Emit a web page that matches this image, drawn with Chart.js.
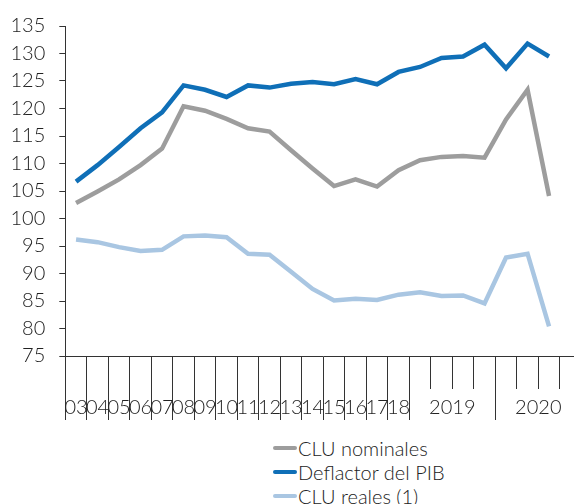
<!DOCTYPE html>
<html>
<head>
<meta charset="utf-8">
<script src="https://cdn.jsdelivr.net/npm/chart.js@4/dist/chart.umd.min.js"></script>
<style>
  html, body { margin: 0; padding: 0; background: #fff; }
  body { width: 574px; height: 504px; overflow: hidden; position: relative; font-family: Lato, "Open Sans", sans-serif; }
  #wrap { position: absolute; left: 0; top: 0; width: 600px; height: 430px; }
  #legend { position: absolute; left: 273px; top: 436px; font-size: 20px; font-weight: 300; color: #222; }
  #legend div { height: 24px; line-height: 24px; display: flex; align-items: center; }
  #legend span.sw { display: inline-block; width: 24px; height: 4px; border-radius: 2px; margin-right: 1px; }
</style>
</head>
<body>
<div id="wrap"><canvas id="chart" width="600" height="430"></canvas></div>
<div id="legend"></div>
<script>
// Periodos: anuales 2003-2018, trimestrales 2019-2020
const categories = [
  "03", "04", "05", "06", "07", "08", "09", "10", "11", "12", "13", "14", "15", "16", "17", "18",
  "2019 T1", "2019 T2", "2019 T3", "2019 T4", "2020 T1", "2020 T2", "2020 T3", "2020 T4",
];

// Etiquetas del eje y número de periodos que abarca cada una
const yearLabels = ["03", "04", "05", "06", "07", "08", "09", "10", "11", "12", "13", "14", "15", "16", "17", "18", "2019", "2020"];
const yearSpans = [1, 1, 1, 1, 1, 1, 1, 1, 1, 1, 1, 1, 1, 1, 1, 1, 4, 4];

const cluNominales = [102.8, 104.9, 107.1, 109.7, 112.7, 120.4, 119.6, 118.1, 116.4, 115.8, 112.4, 109.1,
  105.9, 107.1, 105.8, 108.8, 110.6, 111.2, 111.35, 111.05, 118.0, 123.4, 104.1];
const deflactorPib = [106.7, 109.7, 113.0, 116.4, 119.3, 124.2, 123.4, 122.1, 124.2, 123.8, 124.5, 124.8,
  124.4, 125.35, 124.4, 126.65, 127.55, 129.2, 129.45, 131.6, 127.3, 131.8, 129.45];
const cluReales = [96.2, 95.7, 94.8, 94.1, 94.3, 96.75, 96.9, 96.6, 93.6, 93.4, 90.3, 87.2,
  85.1, 85.4, 85.2, 86.15, 86.6, 85.9, 86.0, 84.55, 92.9, 93.6, 80.4];

const seriesNames = ["CLU nominales", "Deflactor del PIB", "CLU reales (1)"];
const seriesColors = ["#9d9d9d", "#0f6fb7", "#a9c6e2"];

const FONT = { family: "Lato, 'Open Sans', sans-serif", size: 20, weight: "300" };
const AXIS = "#333";

// límites de año y posiciones de las etiquetas
const bounds = [0];
const labelTicks = [];
yearSpans.forEach((s, i) => {
  const start = bounds[bounds.length - 1];
  labelTicks.push({ value: start + s / 2, label: yearLabels[i] });
  bounds.push(start + s);
});

const datasets = [cluNominales, deflactorPib, cluReales].map((data, i) => ({
  label: seriesNames[i],
  data: data,
  borderColor: seriesColors[i],
  backgroundColor: seriesColors[i],
  borderWidth: 4.5,
  pointRadius: 0,
  tension: 0,
  fill: false,
  xAxisID: "x",
}));

const chart = new Chart(document.getElementById("chart"), {
  type: "line",
  data: { labels: categories, datasets: datasets },
  options: {
    responsive: false,
    animation: false,
    devicePixelRatio: 1,
    layout: { padding: { left: 0, top: 20, right: 18.7, bottom: 1 } },
    plugins: { legend: { display: false }, tooltip: { enabled: false } },
    scales: {
      x: {
        type: "category",
        offset: true,
        weight: 0,
        grid: { offset: true, drawOnChartArea: false, tickLength: 33, tickColor: AXIS, tickWidth: 1 },
        border: { color: AXIS, width: 1 },
        ticks: { display: false },
        afterFit: (s) => { s.height = 33; },
      },
      x2: {
        type: "linear",
        position: "bottom",
        weight: 1,
        min: 0,
        max: categories.length,
        afterBuildTicks: (s) => {
          s.ticks = bounds.map((v) => ({ value: v })).concat(labelTicks.map((t) => ({ value: t.value })));
          s.ticks.sort((a, b) => a.value - b.value);
        },
        grid: {
          drawOnChartArea: false,
          tickLength: 31,
          tickWidth: 1,
          tickColor: (ctx) => (ctx.tick && bounds.includes(ctx.tick.value) ? AXIS : "rgba(0,0,0,0)"),
        },
        border: { display: false },
        ticks: {
          autoSkip: false,
          maxRotation: 0,
          padding: -24,
          color: "#222",
          font: FONT,
          callback: (v) => {
            const t = labelTicks.find((t) => t.value === v);
            return t ? t.label : "";
          },
        },
        afterFit: (s) => { s.height = 40; },
      },
      y: {
        min: 75,
        max: 135,
        ticks: { stepSize: 5, padding: 14, color: "#222", font: FONT },
        grid: { drawOnChartArea: false, tickLength: 6, tickColor: AXIS },
        border: { color: AXIS, width: 1 },
        afterFit: (s) => { s.width = 65.3; },
      },
    },
  },
});

// leyenda vertical en HTML a partir de los datasets
const legend = document.getElementById("legend");
chart.data.datasets.forEach((ds) => {
  const row = document.createElement("div");
  row.innerHTML = `<span class="sw" style="background:${ds.borderColor}"></span><span>${ds.label}</span>`;
  legend.appendChild(row);
});
</script>
</body>
</html>
